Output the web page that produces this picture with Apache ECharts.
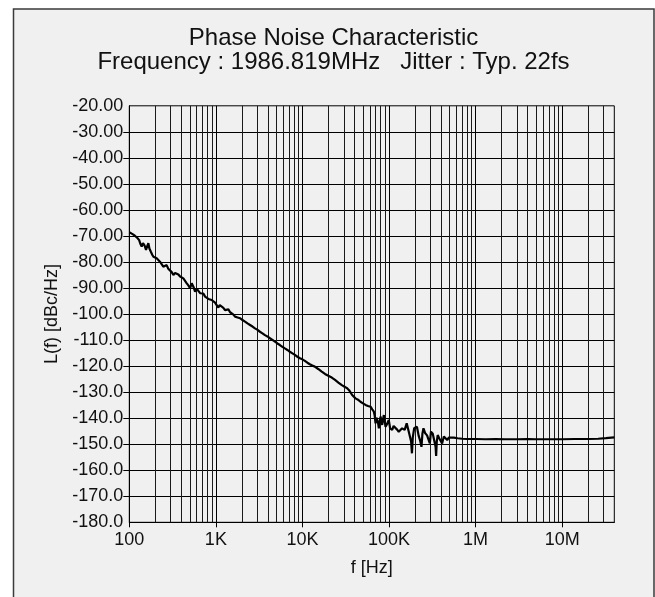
<!DOCTYPE html>
<html>
<head>
<meta charset="utf-8">
<script src="https://cdn.jsdelivr.net/npm/echarts@6/dist/echarts.min.js"></script>
<style>
html,body{margin:0;padding:0;background:#ffffff;}
#chart{width:655px;height:597px;}
</style>
</head>
<body>
<div id="chart"></div>
<script>
// ---- Data ----
var titleText = 'Phase Noise Characteristic';
var subtitleText = 'Frequency : 1986.819MHz   Jitter : Typ. 22fs';
var yAxisName = 'L(f) [dBc/Hz]';
var xAxisName = 'f [Hz]';

var xTickValues = [100, 1000, 10000, 100000, 1000000, 10000000];
var xTickLabels = ['100', '1K', '10K', '100K', '1M', '10M'];
var yTickMarks = [-30,-40,-50,-60,-70,-80,-90,-100,-110,-120,-130,-140,-150,-160,-170];
var xMinorGrid = [200,300,400,500,600,700,800,900,
  2000,3000,4000,5000,6000,7000,8000,9000,
  20000,30000,40000,50000,60000,70000,80000,90000,
  200000,300000,400000,500000,600000,700000,800000,900000,
  2000000,3000000,4000000,5000000,6000000,7000000,8000000,9000000,
  20000000,30000000];

var freqHz = [100,108,116,124,130,135,139,144,150,156,161,166,171,177,184,190,198,207,216,226,236,247,258,270,282,295,309,323,338,353,369,386,403,421,440,461,481,503,526,550,575,600,628,657,686,717,750,785,819,855,895,935,978,1020,1068,1110,1167,1220,1275,1335,1395,1460,1525,1595,1666,1780,1900,2030,2170,2320,2480,2650,2830,3030,3230,3450,3690,3940,4210,4500,4810,5140,5490,5870,6270,6700,7160,7660,8180,8740,9340,9980,10660,11400,12170,13000,13900,15200,16700,18200,19900,21800,23800,26000,28500,30600,32800,35000,37500,39200,41000,43800,46800,50000,53500,57200,61100,64000,66800,68300,69900,71500,73100,74700,76300,78000,79800,81600,83400,85200,87100,89100,91100,95000,99300,103000,108800,113000,118600,124000,129500,134000,141600,146000,151600,160000,168000,176000,180000,184000,188000,195000,210000,220000,228000,237000,243000,250000,262000,275000,296000,305000,320000,335000,345000,350000,356000,365000,380000,410000,430000,447000,470000,490000,510000,560000,620000,700000,800000,1000000,1300000,1700000,2200000,3000000,4000000,5000000,7000000,10000000,14000000,20000000,26000000,32000000,37000000,40000000];
var noiseDbc = [-68.6,-69.2,-69.9,-70.8,-71.6,-73.2,-74.1,-72.8,-73.6,-75.4,-73.9,-72.8,-74.9,-76.0,-77.2,-78.0,-77.4,-78.6,-79.1,-79.9,-80.4,-81.8,-82.4,-81.2,-82.6,-83.1,-83.9,-85.0,-84.2,-83.7,-84.8,-85.6,-85.2,-86.3,-87.0,-88.2,-89.0,-90.1,-88.2,-89.5,-91.4,-90.2,-90.8,-92.0,-92.7,-92.1,-93.3,-93.8,-94.2,-94.0,-94.6,-95.2,-95.6,-96.2,-97.5,-96.6,-97.2,-97.6,-98.5,-98.0,-98.2,-99.3,-99.7,-100.2,-101.0,-101.3,-101.6,-102.3,-102.9,-103.6,-104.2,-104.8,-105.5,-106.1,-106.8,-107.4,-108.1,-108.6,-109.3,-109.9,-110.6,-111.3,-111.9,-112.6,-113.2,-113.8,-114.5,-115.1,-115.7,-116.4,-117.0,-117.4,-118.0,-118.7,-119.3,-119.8,-120.2,-121.1,-122.1,-123.0,-123.7,-124.4,-125.3,-126.3,-127.3,-127.9,-128.5,-129.5,-131.1,-131.6,-132.4,-132.9,-133.7,-134.3,-134.9,-135.3,-135.6,-136.6,-137.5,-139.0,-142.0,-139.8,-139.4,-141.8,-143.9,-141.2,-139.4,-140.8,-142.6,-140.5,-138.8,-141.0,-143.3,-142.2,-140.7,-143.9,-144.5,-143.0,-142.6,-144.4,-145.2,-145.2,-143.9,-144.2,-144.5,-142.0,-144.8,-145.2,-149.0,-153.5,-147.5,-143.9,-143.3,-146.8,-148.4,-151.0,-146.0,-143.9,-145.8,-146.6,-149.7,-145.2,-146.0,-146.5,-151.0,-154.5,-149.0,-146.5,-147.7,-149.7,-147.0,-146.5,-148.4,-147.5,-147.7,-147.5,-147.7,-147.9,-148.0,-148.0,-148.1,-148.0,-148.1,-148.1,-148.0,-148.1,-148.1,-148.1,-148.0,-148.0,-147.9,-147.7,-147.5,-147.4];

var FONT = 'Liberation Sans, Arial, sans-serif';

var lineData = freqHz.map(function (f, i) { return [f, noiseDbc[i]]; });

var chart = echarts.init(document.getElementById('chart'), null, {renderer: 'canvas'});
chart.setOption({
  animation: false,
  backgroundColor: '#ffffff',
  graphic: [{
    type: 'rect', z: -10, silent: true,
    shape: {x: 13.5, y: 9, width: 640.5, height: 620},
    style: {fill: '#f0f0f0', stroke: '#3a3a3a', lineWidth: 1.5}
  }],
  title: [{
    text: titleText, left: 333.5, top: 26, textAlign: 'center', padding: 0,
    textStyle: {fontFamily: FONT, fontSize: 24, fontWeight: 'normal', color: '#111', lineHeight: 24}
  }, {
    text: subtitleText, left: 333.5, top: 50, textAlign: 'center', padding: 0,
    textStyle: {fontFamily: FONT, fontSize: 24, fontWeight: 'normal', color: '#111', lineHeight: 24}
  }],
  grid: {
    left: 129.3, right: 40.7, top: 105.8, bottom: 74.7,
    show: true, borderColor: '#000', borderWidth: 1, backgroundColor: 'transparent'
  },
  xAxis: {
    type: 'log', logBase: 10, min: 100, max: 40000000,
    name: xAxisName, nameLocation: 'middle', nameGap: 37,
    nameTextStyle: {fontFamily: FONT, fontSize: 18, color: '#111'},
    axisLine: {show: true, lineStyle: {color: '#000', width: 1}},
    axisTick: {show: true, length: 5, customValues: xTickValues, lineStyle: {color: '#000', width: 1}},
    axisLabel: {
      fontFamily: FONT, fontSize: 18, color: '#111', margin: 9,
      customValues: xTickValues,
      formatter: function (v) {
        for (var i = 0; i < xTickValues.length; i++) {
          if (Math.abs(v - xTickValues[i]) / xTickValues[i] < 1e-6) return xTickLabels[i];
        }
        return '';
      }
    },
    splitLine: {show: true, lineStyle: {color: '#000', width: 1}},
    minorTick: {show: false},
    minorSplitLine: {show: false}
  },
  yAxis: {
    type: 'value', min: -180, max: -20, interval: 10,
    name: yAxisName, nameLocation: 'middle', nameGap: 68, nameRotate: 90,
    nameTextStyle: {fontFamily: FONT, fontSize: 18, color: '#111'},
    axisLine: {show: true, lineStyle: {color: '#000', width: 1}},
    axisTick: {show: true, length: 6, customValues: yTickMarks, lineStyle: {color: '#000', width: 1}},
    axisLabel: {
      fontFamily: FONT, fontSize: 18, color: '#111', margin: 6,
      formatter: function (v) {
        return Math.abs(v) < 100 ? v.toFixed(2) : v.toFixed(1);
      }
    },
    splitLine: {show: true, lineStyle: {color: '#000', width: 1}}
  },
  series: [{
    type: 'line', z: 1, data: [], silent: true,
    markLine: {
      silent: true, symbol: ['none', 'none'], animation: false,
      label: {show: false},
      lineStyle: {type: 'solid', color: '#1a1a1a', width: 1},
      emphasis: {disabled: true},
      data: xMinorGrid.map(function (v) { return {xAxis: v}; })
    }
  }, {
    type: 'line', z: 5, data: lineData, showSymbol: false, symbol: 'none',
    smooth: false,
    lineStyle: {color: '#000', width: 2.2},
    silent: true
  }]
});
</script>
</body>
</html>
